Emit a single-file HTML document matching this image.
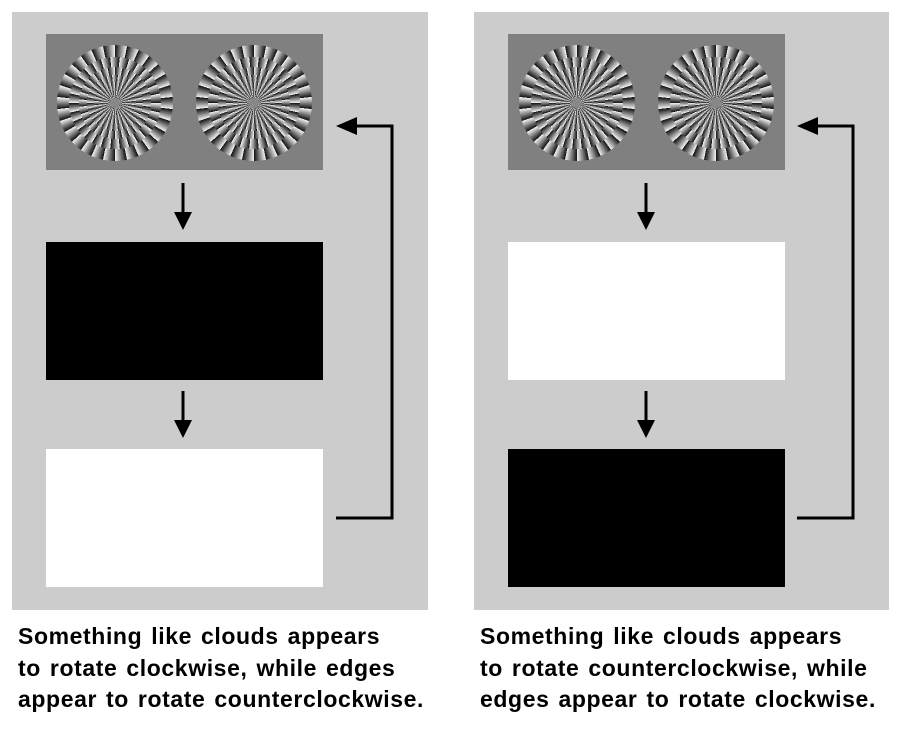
<!DOCTYPE html><html><head><style>
body{margin:0;width:900px;height:738px;background:#fff;position:relative;font-family:"Liberation Sans",sans-serif;overflow:hidden}
.a{position:absolute}
.panel{background:#cccccc}
.c{position:absolute;border-radius:50%}
.t{position:absolute;font-size:23px;font-weight:bold;color:#000;line-height:31.5px;letter-spacing:0.6px;word-spacing:2px;white-space:nowrap}
</style></head><body>
<div class="a panel" style="left:12px;top:12px;width:416px;height:598px"></div>
<div class="a panel" style="left:474px;top:12px;width:415px;height:598px"></div>
<div class="a" style="left:46px;top:34px;width:277px;height:136px;background:#808080"></div>
<div class="a" style="left:508px;top:34px;width:277px;height:136px;background:#808080"></div>
<div class="a" style="left:46px;top:242px;width:277px;height:138px;background:#000"></div>
<div class="a" style="left:46px;top:449px;width:277px;height:138px;background:#fff"></div>
<div class="a" style="left:508px;top:242px;width:277px;height:138px;background:#fff"></div>
<div class="a" style="left:508px;top:449px;width:277px;height:138px;background:#000"></div>
<div id="wheels"></div>
<svg class="a" style="left:0;top:0" width="900" height="738">
<g stroke="#000" stroke-width="3" fill="none">
<line x1="183" y1="183" x2="183" y2="215"/><line x1="183" y1="391" x2="183" y2="422"/>
<line x1="646" y1="183" x2="646" y2="215"/><line x1="646" y1="391" x2="646" y2="422"/>
<polyline points="336,518 392,518 392,126 355,126"/>
<polyline points="797,518 853,518 853,126 816,126"/>
</g>
<g fill="#000">
<polygon points="174,212 192,212 183,230"/><polygon points="174,420 192,420 183,438"/>
<polygon points="637,212 655,212 646,230"/><polygon points="637,420 655,420 646,438"/>
<polygon points="336,126 357,117 357,135"/><polygon points="797,126 818,117 818,135"/>
</g></svg>
<div class="t" style="left:18px;top:621px">Something like clouds appears<br>to rotate clockwise, while edges<br>appear to rotate counterclockwise.</div>
<div class="t" style="left:480px;top:621px">Something like clouds appears<br>to rotate counterclockwise, while<br>edges appear to rotate clockwise.</div>
<script>
var w=document.getElementById('wheels'),h='';
[[115,103],[254,103],[577,103],[716,103]].forEach(function(p,k){
 var radii=[58,46,36,28,21,15,10];
 radii.forEach(function(r,i){
  var rev=(i%2==(k%2));
  var g=rev?'repeating-conic-gradient(from '+(i*6)+'deg,#111 0deg,#f4f4f4 12deg)':'repeating-conic-gradient(from '+(i*6)+'deg,#f4f4f4 0deg,#111 12deg)';
  h+='<div class="c" style="left:'+(p[0]-r)+'px;top:'+(p[1]-r)+'px;width:'+(2*r)+'px;height:'+(2*r)+'px;background:'+g+'"></div>';
 });
 h+='<div class="c" style="left:'+(p[0]-5)+'px;top:'+(p[1]-5)+'px;width:10px;height:10px;background:#888"></div>';
});
w.innerHTML=h;
</script>
</body></html>
